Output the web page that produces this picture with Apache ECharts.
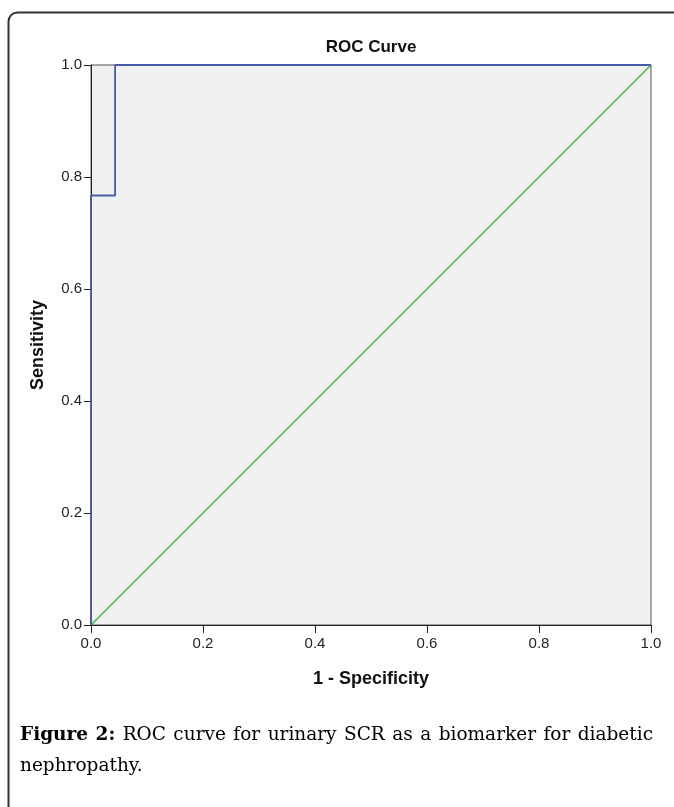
<!DOCTYPE html>
<html>
<head>
<meta charset="utf-8">
<script src="https://cdn.jsdelivr.net/npm/echarts@6/dist/echarts.min.js"></script>
<style>
html,body{margin:0;padding:0;background:#fff;}
#chart{width:674px;height:807px;}
</style>
</head>
<body>
<div id="chart"></div>
<script>
// ROC curve data (1 - Specificity, Sensitivity)
const rocX = [0, 0, 0.043, 0.043, 1];
const rocY = [0, 0.767, 0.767, 1, 1];
// reference diagonal
const refX = [0, 1];
const refY = [0, 1];
// tick labels
const ticks = [0.0, 0.2, 0.4, 0.6, 0.8, 1.0];

const chartTitle = 'ROC Curve';
const xName = '1 - Specificity';
const yName = 'Sensitivity';
const captionBold = 'Figure 2:';
const captionLine1 = 'ROC curve for urinary SCR as a biomarker for diabetic';
const captionLine2 = 'nephropathy.';

const chart = echarts.init(document.getElementById('chart'), null, {renderer: 'canvas'});
const sans = '"Liberation Sans", Arial, sans-serif';
const serif = '"DejaVu Serif", "Liberation Serif", serif';
const capSize = 18.5;

// justify caption line 1 between x=20 and x=653
const cv = document.createElement('canvas').getContext('2d');
const boldWords = captionBold.split(' ');
const normWords = captionLine1.split(' ');
let wordsW = 0;
cv.font = 'bold ' + capSize + 'px ' + serif;
boldWords.forEach(w => wordsW += cv.measureText(w).width);
cv.font = capSize + 'px ' + serif;
normWords.forEach(w => wordsW += cv.measureText(w).width);
const nGaps = boldWords.length + normWords.length - 1;
const gapW = Math.max(3, (633 - wordsW) / nGaps);
const tokens = [];
boldWords.forEach(w => tokens.push('{b|' + w + '}'));
normWords.forEach(w => tokens.push('{n|' + w + '}'));
const capRich = tokens.join('{s| }');

const option = {
  backgroundColor: '#ffffff',
  animation: false,
  grid: {
    left: 91, top: 65, width: 560, height: 560,
    show: true, backgroundColor: '#f0f0f0', borderColor: '#555', borderWidth: 1
  },
  xAxis: {
    type: 'value', min: 0, max: 1, interval: 0.2,
    name: xName, nameLocation: 'middle', nameGap: 45,
    nameTextStyle: {fontFamily: sans, fontSize: 18, fontWeight: 'bold', color: '#111'},
    axisLine: {show: true, onZero: false, lineStyle: {color: '#222', width: 1}},
    axisTick: {show: true, length: 8, lineStyle: {color: '#222'}},
    axisLabel: {fontFamily: sans, fontSize: 15, color: '#222', margin: 11,
      formatter: v => v.toFixed(1)},
    splitLine: {show: false}
  },
  yAxis: {
    type: 'value', min: 0, max: 1, interval: 0.2,
    name: yName, nameLocation: 'middle', nameGap: 44, nameRotate: 90,
    nameTextStyle: {fontFamily: sans, fontSize: 18, fontWeight: 'bold', color: '#111'},
    axisLine: {show: true, onZero: false, lineStyle: {color: '#222', width: 1}},
    axisTick: {show: true, length: 7, lineStyle: {color: '#222'}},
    axisLabel: {fontFamily: sans, fontSize: 15, color: '#222', margin: 9,
      formatter: v => v.toFixed(1)},
    splitLine: {show: false}
  },
  series: [
    {
      name: 'Reference Line', type: 'line',
      data: refX.map((x, i) => [x, refY[i]]),
      symbol: 'none', lineStyle: {color: '#4cbb4c', width: 1.6}, z: 3
    },
    {
      name: 'ROC', type: 'line',
      data: rocX.map((x, i) => [x, rocY[i]]),
      symbol: 'none', lineStyle: {color: '#4a5ca6', width: 1.8}, z: 4
    }
  ],
  graphic: [
    {
      type: 'rect', left: 6, top: 10, z: 0, silent: true,
      shape: {width: 720, height: 840, r: 9},
      style: {fill: 'none', stroke: '#333', lineWidth: 2}
    },
    {
      type: 'text', x: 371, y: 47, z: 10,
      style: {text: chartTitle, font: 'bold 17px ' + sans, fill: '#111',
        textAlign: 'center', textVerticalAlign: 'middle'}
    },
    {
      type: 'text', x: 20, y: 735, z: 10,
      style: {
        text: capRich,
        textVerticalAlign: 'middle',
        rich: {
          b: {fontFamily: serif, fontSize: capSize, fontWeight: 'bold', fill: '#000'},
          n: {fontFamily: serif, fontSize: capSize, fill: '#000'},
          s: {fontFamily: serif, fontSize: capSize, width: gapW}
        }
      }
    },
    {
      type: 'text', x: 20, y: 766, z: 10,
      style: {text: captionLine2, font: capSize + 'px ' + serif, fill: '#000',
        textVerticalAlign: 'middle'}
    }
  ]
};
chart.setOption(option);
</script>
</body>
</html>
